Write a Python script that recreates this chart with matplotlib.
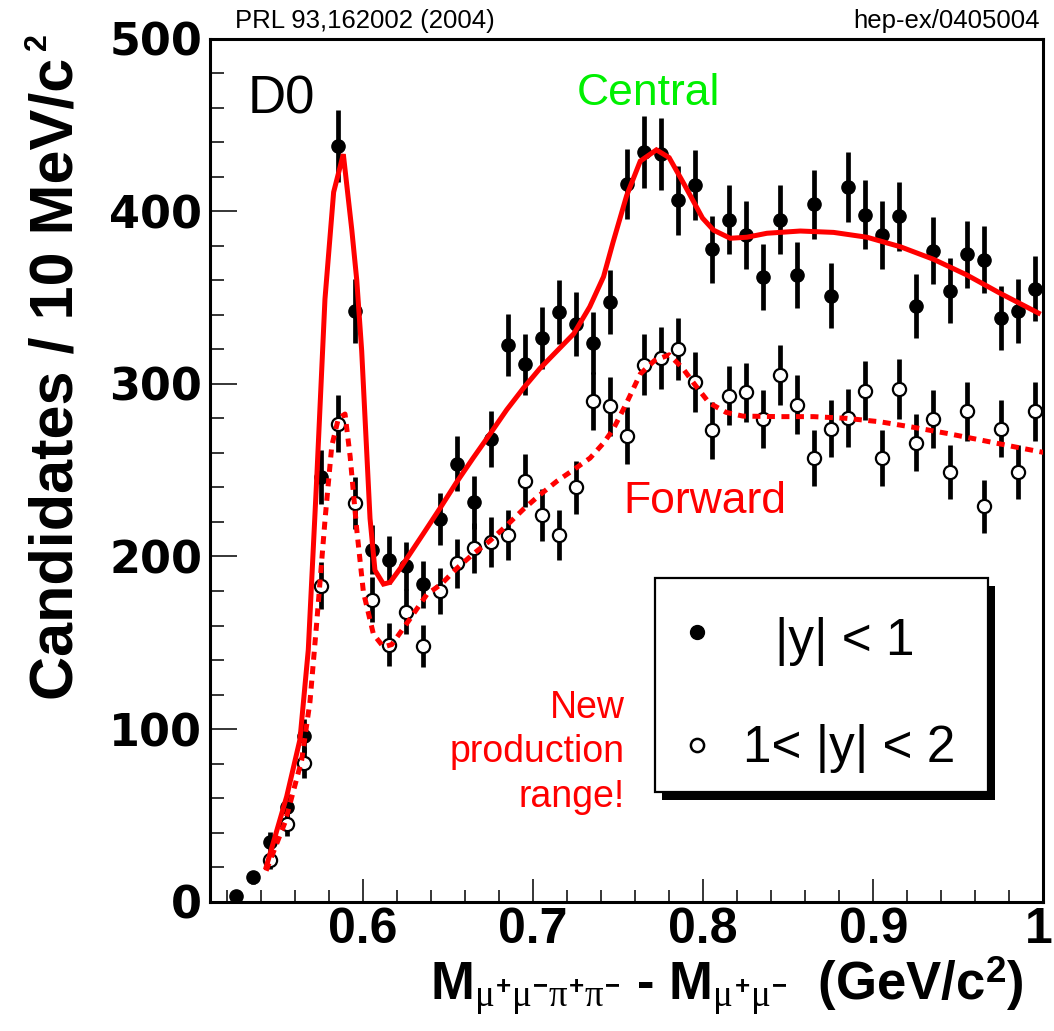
import numpy as np
import matplotlib
matplotlib.use("Agg")
import matplotlib.pyplot as plt
from matplotlib import font_manager
from matplotlib.patches import Rectangle
from matplotlib.lines import Line2D
from matplotlib.ticker import MultipleLocator, FixedLocator

# ---------------- data ----------------
mass = [0.525, 0.535, 0.545, 0.555, 0.565, 0.575, 0.585, 0.595, 0.605, 0.615,
        0.625, 0.635, 0.645, 0.655, 0.665, 0.675, 0.685, 0.695, 0.705, 0.715,
        0.725, 0.735, 0.745, 0.755, 0.765, 0.775, 0.785, 0.795, 0.805, 0.815,
        0.825, 0.835, 0.845, 0.855, 0.865, 0.875, 0.885, 0.895, 0.905, 0.915,
        0.925, 0.935, 0.945, 0.955, 0.965, 0.975, 0.985, 0.995]

central = [3.4, 14.2, 34.4, 55.1, 96, 246, 437.7, 342, 204, 198,
           194.5, 184, 221.8, 253.6, 231.4, 268, 322.4, 311.3, 326.4, 341.7,
           334.6, 323.5, 347.2, 415.6, 434.4, 433.3, 406.2, 415.1, 378, 395,
           386, 362, 395, 363, 404, 351, 414, 398, 386, 397,
           345, 377, 354, 375, 372, 338, 342, 355]

forward_mass = [0.545, 0.555, 0.565, 0.575, 0.585, 0.595, 0.605, 0.615,
                0.625, 0.635, 0.645, 0.655, 0.665, 0.675, 0.685, 0.695, 0.705, 0.715,
                0.725, 0.735, 0.745, 0.755, 0.765, 0.775, 0.785, 0.795, 0.805, 0.815,
                0.825, 0.835, 0.845, 0.855, 0.865, 0.875, 0.885, 0.895, 0.905, 0.915,
                0.925, 0.935, 0.945, 0.955, 0.965, 0.975, 0.985, 0.995]

forward = [24.2, 45, 80.6, 183, 277, 231, 175, 149,
           168, 148, 180, 196, 205, 208.5, 212.5, 244, 224, 212.5,
           240, 290, 287, 270, 311, 315, 320, 301, 273, 293,
           295, 279.5, 305, 288, 257, 274, 280, 296, 257, 297,
           266, 279.5, 249, 284, 229, 274, 249, 284]

# fitted curves
fit_c_x = [0.5430, 0.5551, 0.5629, 0.5678, 0.5728, 0.5776, 0.5827, 0.5884, 0.5934,
           0.5963, 0.5992, 0.6041, 0.6070, 0.6120, 0.6159, 0.6218, 0.6353, 0.6453,
           0.6550, 0.6647, 0.6747, 0.6845, 0.6943, 0.7041, 0.7140, 0.7239, 0.7333,
           0.7414, 0.7470, 0.7550, 0.7630, 0.7725, 0.7800, 0.7888, 0.7996, 0.8061,
           0.8159, 0.8257, 0.8375, 0.8571, 0.8767, 0.8963, 0.9159, 0.9355, 0.9551,
           0.9747, 0.9971]
fit_c_y = [20, 61, 94, 146, 246, 349, 411, 433, 389,
           360, 319, 222, 192, 184, 185, 193, 213, 228,
           243, 257, 271, 285, 297.5, 309, 319, 329, 344.6,
           362, 382, 409, 429, 435.5, 431, 415.6, 396, 389,
           384.3, 384.9, 387.2, 388.5, 387.7, 384.9, 379.4, 372.1, 363,
           352.4, 341]

fit_f_x = [0.5430, 0.5541, 0.5639, 0.5688, 0.5727, 0.5777, 0.5816, 0.5855, 0.5894,
           0.5924, 0.5963, 0.6002, 0.6061, 0.6120, 0.6169, 0.6277, 0.6375, 0.6460,
           0.6550, 0.6647, 0.6747, 0.6845, 0.6943, 0.7041, 0.7140, 0.7239, 0.7335,
           0.7414, 0.7470, 0.7550, 0.7630, 0.7714, 0.7800, 0.7880, 0.7955, 0.8035,
           0.8134, 0.8233, 0.8453, 0.8649, 0.8845, 0.9041, 0.9237, 0.9433, 0.9629,
           0.9826, 1.0000]
fit_f_y = [18, 46, 82, 116, 161, 222, 264, 280, 282.5,
           258, 215.5, 179.4, 155, 147.6, 149, 164, 178, 184,
           193, 201.4, 209.2, 218, 227.4, 235.8, 243.6, 250.3, 257,
           265.7, 273.5, 289, 305.7, 313.5, 316.8, 309, 299, 289,
           283.5, 281.3, 281, 281, 280, 278, 274.8, 271.3, 267.5,
           263.6, 260.3]

x_ticks = [0.6, 0.7, 0.8, 0.9, 1.0]
x_ticklabels = ["0.6", "0.7", "0.8", "0.9", "1"]
y_ticks = [0, 100, 200, 300, 400, 500]
legend_labels = ["|y| < 1", "1< |y| < 2"]

# ---------------- fonts ----------------
names = {f.name for f in font_manager.fontManager.ttflist}
if "Liberation Sans Narrow" in names:
    narrow = "Liberation Sans Narrow"
    xt_size, xl_size = 40, 42
else:
    narrow = "Liberation Sans"
    xt_size, xl_size = 36, 38

plt.rcParams["font.family"] = ["Liberation Sans", "DejaVu Sans"]
plt.rcParams["mathtext.fontset"] = "custom"
plt.rcParams["mathtext.rm"] = narrow + ":bold"
plt.rcParams["mathtext.bf"] = narrow + ":bold"
plt.rcParams["mathtext.it"] = "Liberation Serif"
plt.rcParams["mathtext.default"] = "it"

W, H = 1054, 1031
def fx(p):
    return p / W
def fy(p):
    return 1 - p / H

fig = plt.figure(figsize=(W / 100, H / 100), dpi=100)
fig.patch.set_facecolor("white")
ax = fig.add_axes([fx(210), fy(901.8), (1043.3 - 210) / W, (901.8 - 38.5) / H])
ax.set_xlim(0.51, 1.0)
ax.set_ylim(0, 500)

red = "#ff0000"

ax.errorbar(mass, central, yerr=np.sqrt(central), fmt="o", color="black",
            ms=9.5, elinewidth=3.4, capsize=0, zorder=3)
ax.errorbar(forward_mass, forward, yerr=np.sqrt(forward), fmt="o", mfc="white",
            mec="black", mew=1.6, ms=9.5, ecolor="black", elinewidth=3.4,
            capsize=0, zorder=3)

ax.plot(fit_c_x, fit_c_y, color=red, lw=3.6, zorder=4, solid_joinstyle="miter")
ax.plot(fit_f_x, fit_f_y, color=red, lw=3.6, zorder=4,
        linestyle=(0, (1.6, 1.3)), dash_capstyle="butt")

# axes styling
xpad_pt = 3.5
for sp in ax.spines.values():
    sp.set_linewidth(2.2)
ax.xaxis.set_major_locator(FixedLocator(x_ticks))
ax.xaxis.set_minor_locator(MultipleLocator(0.02))
# last label ("1") is drawn separately so it stays inside the canvas
ax.set_xticklabels(x_ticklabels[:-1] + [""])
ax.yaxis.set_major_locator(FixedLocator(y_ticks))
ax.yaxis.set_minor_locator(MultipleLocator(20))
ax.tick_params(axis="x", which="major", direction="in", length=16.5, width=1.1,
               pad=xpad_pt, labelsize=xt_size)
ax.tick_params(axis="x", which="minor", direction="in", length=8.6, width=1.1)
ax.tick_params(axis="y", which="major", direction="in", length=19.5, width=1.1,
               pad=5.5, labelsize=32)
ax.tick_params(axis="y", which="minor", direction="in", length=10, width=1.1)
ax.tick_params(top=False, right=False, which="both")
for lbl in ax.get_xticklabels():
    lbl.set_fontfamily(narrow)
    lbl.set_fontweight("bold")
for lbl in ax.get_yticklabels():
    lbl.set_fontfamily("DejaVu Sans")
    lbl.set_fontweight("bold")
fig.text(fx(1053), fy(901.8 + xpad_pt * 100 / 72), x_ticklabels[-1], ha="right",
         va="top", fontsize=xt_size, fontweight="bold", family=narrow)

# axis titles
fig.text(fx(73), fy(700), "Candidates / 10 MeV/c", rotation=90,
         rotation_mode="anchor", ha="left", va="baseline", fontsize=44,
         fontweight="bold", family="Liberation Sans")
fig.text(fx(46), fy(50), "2", rotation=90, rotation_mode="anchor", ha="left",
         va="baseline", fontsize=22, fontweight="bold", family="Liberation Sans")
xlabel = (r"$\mathbf{M}_{\mu^{+}\mu^{-}\pi^{+}\pi^{-}}$ - "
          r"$\mathbf{M}_{\mu^{+}\mu^{-}}$  (GeV/c$^{2}$)")
fig.text(fx(430), fy(1000), xlabel, ha="left", va="baseline", fontsize=xl_size,
         fontweight="bold", family=narrow)

# annotations
fig.text(fx(235), fy(28.3), "PRL 93,162002 (2004)", ha="left", va="baseline",
         fontsize=18.5)
fig.text(fx(1040), fy(28.3), "hep-ex/0405004", ha="right", va="baseline",
         fontsize=18.5)
fig.text(fx(248), fy(113.3), "D0", ha="left", va="baseline", fontsize=38)
fig.text(fx(577), fy(105), "Central", ha="left", va="baseline", fontsize=32,
         color="#00f000")
fig.text(fx(623), fy(513), "Forward", ha="left", va="baseline", fontsize=32,
         color=red)
for txt, base in zip(["New", "production", "range!"], [718.3, 761.7, 806.7]):
    fig.text(fx(625), fy(base), txt, ha="right", va="baseline", fontsize=27,
             color=red)

# legend box with ROOT-style shadow
L, T, R, B = 655, 578.3, 988.3, 791.7
fig.add_artist(Rectangle((fx(L + 7), fy(B + 8)), (R - L) / W, (B - T) / H,
                         transform=fig.transFigure, facecolor="black",
                         edgecolor="black", lw=0, zorder=5))
fig.add_artist(Rectangle((fx(L), fy(B)), (R - L) / W, (B - T) / H,
                         transform=fig.transFigure, facecolor="white",
                         edgecolor="black", lw=1.6, zorder=6))
fig.add_artist(Line2D([fx(696.7)], [fy(631.7)], transform=fig.transFigure,
                      marker="o", ms=10, color="black", ls="none", zorder=7))
fig.add_artist(Line2D([fx(696.7)], [fy(745)], transform=fig.transFigure,
                      marker="o", ms=9.5, mfc="white", mec="black", mew=1.8,
                      ls="none", zorder=7))
fig.text(fx(775), fy(655), legend_labels[0], ha="left", va="baseline",
         fontsize=37, zorder=8)
fig.text(fx(743), fy(761.7), legend_labels[1], ha="left", va="baseline",
         fontsize=37, zorder=8)

fig.savefig("out.png", dpi=100, facecolor="white")
